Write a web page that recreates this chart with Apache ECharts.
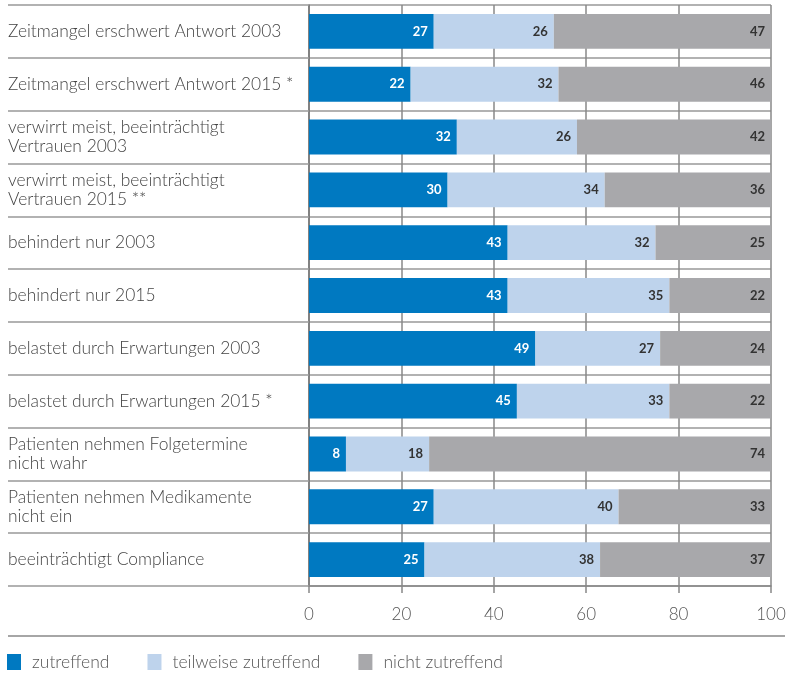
<!DOCTYPE html>
<html><head><meta charset="utf-8">
<script src="https://cdn.jsdelivr.net/npm/echarts@6/dist/echarts.min.js"></script>
<style>html,body{margin:0;padding:0;background:#fff}#c{width:789px;height:679px}</style>
</head><body><div id="c"></div>
<script>
const categories = [
  'Zeitmangel erschwert Antwort 2003',
  'Zeitmangel erschwert Antwort 2015 *',
  'verwirrt meist, beeinträchtigt\nVertrauen 2003',
  'verwirrt meist, beeinträchtigt\nVertrauen 2015 **',
  'behindert nur 2003',
  'behindert nur 2015',
  'belastet durch Erwartungen 2003',
  'belastet durch Erwartungen 2015 *',
  'Patienten nehmen Folgetermine\nnicht wahr',
  'Patienten nehmen Medikamente\nnicht ein',
  'beeinträchtigt Compliance'
];
const zutreffend = [27,22,32,30,43,43,49,45,8,27,25];
const teilweise = [26,32,26,34,32,35,27,33,18,40,38];
const nicht = [47,46,42,36,25,22,24,22,74,33,37];
const seriesNames = ['zutreffend','teilweise zutreffend','nicht zutreffend'];
const xTicks = [0,20,40,60,80,100];

const font = 'Lato, "Open Sans", sans-serif';
const chart = echarts.init(document.getElementById('c'), null, {renderer:'canvas'});
const colors = ['#0079c1','#bed3ec','#a8a8ab'];
function mk(name, data, i){
  return {
    name, type:'bar', stack:'s', data, barWidth:'66%',
    itemStyle:{color:colors[i]},
    label:{show:true, position:'insideRight', distance:6, fontFamily:font, fontWeight:'bold', fontSize:13,
      color: i===0 ? '#fff' : '#333'}
  };
}
chart.setOption({
  animation:false,
  textStyle:{fontFamily:font},
  grid:{left:309, right:18, top:5, bottom:93, containLabel:false},
  xAxis:{type:'value', min:0, max:100, interval:20,
    axisLine:{show:true, lineStyle:{color:'#888', width:1.5}},
    axisTick:{show:true, length:7, lineStyle:{color:'#888', width:1.5}},
    splitLine:{show:true, lineStyle:{color:'#888', width:1.5}},
    axisLabel:{margin:20, fontSize:17, fontWeight:300, color:'#555', fontFamily:font,
      formatter:v=>xTicks.includes(v)?String(v):''}
  },
  yAxis:{type:'category', data:categories, inverse:true,
    axisLine:{show:true, lineStyle:{color:'#777', width:1.5}},
    axisTick:{show:true, length:301, lineStyle:{color:'#999', width:1.5}},
    splitLine:{show:true, lineStyle:{color:'#999', width:1.5}},
    axisLabel:{align:'left', margin:301, fontSize:17.4, fontWeight:300, color:'#444', lineHeight:19, fontFamily:font,
      padding:[7,0,0,0]}
  },
  legend:{left:2, top:648, icon:'rect', itemWidth:14, itemHeight:16, itemGap:38,
    textStyle:{fontSize:17.5, fontWeight:300, color:'#555', fontFamily:font, padding:[0,0,0,6]},
    data:seriesNames},
  graphic:[{type:'line', shape:{x1:8,y1:636,x2:785,y2:636}, style:{stroke:'#888', lineWidth:1.5}}],
  series:[mk(seriesNames[0], zutreffend,0), mk(seriesNames[1], teilweise,1), mk(seriesNames[2], nicht,2)]
});
</script></body></html>
